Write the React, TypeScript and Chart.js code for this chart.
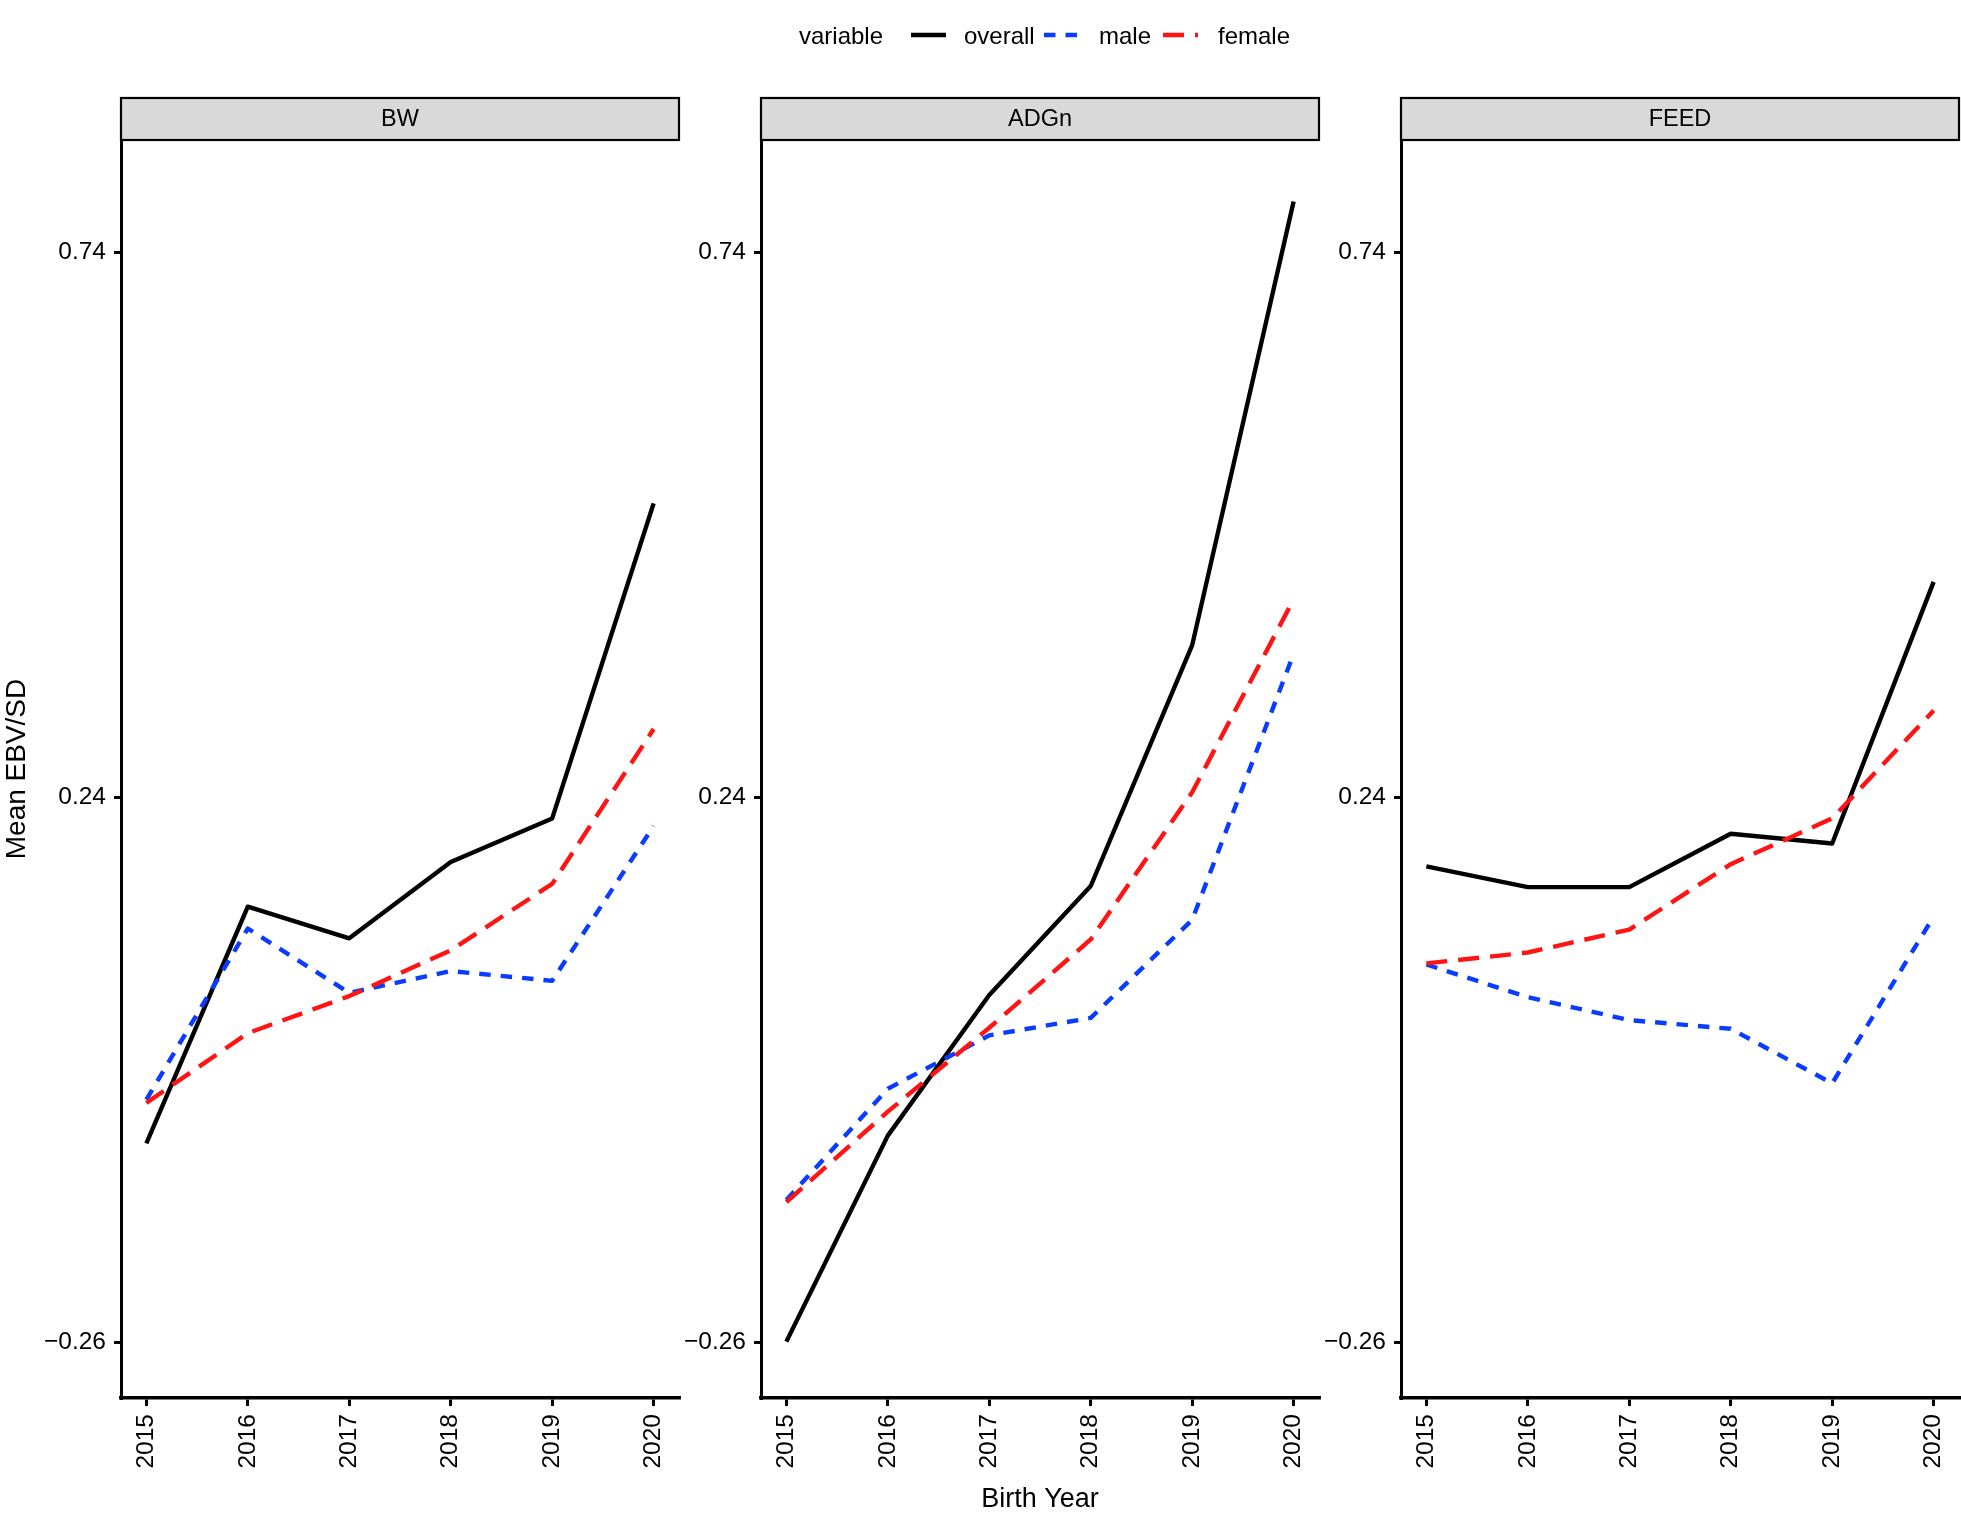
import React, { useEffect, useRef } from 'react';
import { Chart, registerables } from 'chart.js';

Chart.register(...registerables);

// ---------- data ----------
const years = [2015, 2016, 2017, 2018, 2019, 2020];
const yTickValues = [-0.26, 0.24, 0.74];
const panelTitles = ['BW', 'ADGn', 'FEED'];
const seriesNames = ['overall', 'male', 'female'];

const bwOverall = [-0.077, 0.140, 0.111, 0.181, 0.221, 0.510];
const bwMale = [-0.037, 0.120, 0.061, 0.081, 0.072, 0.214];
const bwFemale = [-0.040, 0.024, 0.058, 0.100, 0.161, 0.303];

const adgOverall = [-0.259, -0.070, 0.059, 0.159, 0.380, 0.787];
const adgMale = [-0.129, -0.027, 0.022, 0.038, 0.128, 0.372];
const adgFemale = [-0.131, -0.048, 0.029, 0.110, 0.245, 0.422];

const feedOverall = [0.177, 0.158, 0.158, 0.207, 0.198, 0.438];
const feedMale = [0.087, 0.057, 0.036, 0.028, -0.022, 0.131];
const feedFemale = [0.088, 0.098, 0.119, 0.179, 0.221, 0.320];

const xLabel = 'Birth Year';
const yLabel = 'Mean EBV/SD';
const legendTitle = 'variable';

// ---------- layout / style ----------
const FONT = '"Liberation Sans", Arial, Helvetica, sans-serif';
const W = 1961;
const H = 1516;
const PLOT_TOP = 140;
const PLOT_BOTTOM = 1398;
const PANEL_LEFTS = [121, 761, 1401];
const PANEL_W = 558;
const Y_AXIS_W = 121;
const Y_MIN = -0.3107;
const Y_MAX = 0.8434;
const X_MIN = 2014.75;
const X_MAX = 2020.25;
const STRIP_H = 42;

const BLACK = '#000000';
const BLUE = '#0A3CFF';
const RED = '#FF1414';
const LINE_W = 4.4;
const DASH_MALE = [11.5, 10];
const DASH_FEMALE = [21, 11];

const colors = [BLACK, BLUE, RED];
const dashes: number[][] = [[], DASH_MALE, DASH_FEMALE];

Chart.defaults.font.family = FONT;

const panelData = [
  [bwOverall, bwMale, bwFemale],
  [adgOverall, adgMale, adgFemale],
  [feedOverall, feedMale, feedFemale],
];

function fmt(v: number) {
  const s = Math.abs(v).toFixed(2);
  return v < 0 ? '\u2212' + s : s;
}

function Panel({ index }: { index: number }) {
  const ref = useRef<HTMLCanvasElement>(null);
  const canvasLeft = PANEL_LEFTS[index] - Y_AXIS_W;
  const cw = Y_AXIS_W + PANEL_W + 2;

  useEffect(() => {
    if (!ref.current) return;
    const title = panelTitles[index];
    const stripPlugin = {
      id: 'strip' + index,
      afterDraw(chart: any) {
        const { ctx, chartArea } = chart;
        const left = chartArea.left;
        const width = chartArea.right - chartArea.left;
        const top = chartArea.top - STRIP_H;
        ctx.save();
        ctx.fillStyle = '#D9D9D9';
        ctx.fillRect(left, top, width, STRIP_H);
        ctx.strokeStyle = '#000';
        ctx.lineWidth = 2.2;
        ctx.strokeRect(left, top, width, STRIP_H);
        ctx.fillStyle = '#000';
        ctx.font = `23.5px ${FONT}`;
        ctx.textAlign = 'center';
        ctx.textBaseline = 'middle';
        ctx.fillText(title, left + width / 2, top + STRIP_H / 2 + 1);
        ctx.restore();
      },
    };

    const series = panelData[index];
    const orders = [2, 1, 0];
    const datasets = seriesNames.map((name, si) => ({
      label: name,
      data: years.map((x, i) => ({ x, y: series[si][i] })),
      borderColor: colors[si],
      backgroundColor: colors[si],
      borderWidth: LINE_W,
      borderDash: dashes[si],
      borderCapStyle: 'butt' as const,
      borderJoinStyle: 'round' as const,
      pointRadius: 0,
      pointHoverRadius: 0,
      fill: false,
      tension: 0,
      order: orders[si],
    }));

    const chart = new Chart(ref.current, {
      type: 'line',
      data: { datasets },
      options: {
        animation: false,
        responsive: false,
        maintainAspectRatio: false,
        events: [],
        layout: { padding: { top: PLOT_TOP, right: 2, left: 0, bottom: 0 } },
        plugins: {
          legend: { display: false },
          tooltip: { enabled: false },
        },
        scales: {
          x: {
            type: 'linear',
            min: X_MIN,
            max: X_MAX,
            afterBuildTicks: (s: any) => {
              s.ticks = years.map((v) => ({ value: v }));
            },
            afterFit: (s: any) => {
              s.height = H - PLOT_BOTTOM;
              s.paddingLeft = 0;
              s.paddingRight = 0;
            },
            ticks: {
              autoSkip: false,
              maxRotation: 90,
              minRotation: 90,
              color: '#000',
              padding: 8,
              font: { size: 24.5, family: FONT },
              callback: (v: any) => String(v),
            },
            grid: {
              display: true,
              drawOnChartArea: false,
              drawTicks: true,
              tickLength: 8,
              color: '#000',
              lineWidth: 3,
            },
            border: { display: true, color: '#000', width: 3.5 },
            title: {
              display: index === 1,
              text: xLabel,
              color: '#000',
              font: { size: 27, family: FONT },
              padding: { top: 4, bottom: 0 },
            },
          },
          y: {
            type: 'linear',
            min: Y_MIN,
            max: Y_MAX,
            afterBuildTicks: (s: any) => {
              s.ticks = yTickValues.map((v) => ({ value: v }));
            },
            afterFit: (s: any) => {
              s.width = Y_AXIS_W;
              s.paddingTop = 0;
              s.paddingBottom = 0;
            },
            ticks: {
              color: '#000',
              padding: 8,
              font: { size: 24.5, family: FONT },
              callback: (v: any) => fmt(Number(v)),
            },
            grid: {
              display: true,
              drawOnChartArea: false,
              drawTicks: true,
              tickLength: 7,
              color: '#000',
              lineWidth: 3,
            },
            border: { display: true, color: '#000', width: 3 },
            title: {
              display: index === 0,
              text: yLabel,
              color: '#000',
              font: { size: 28, family: FONT },
              padding: { top: 0, bottom: 0 },
            },
          },
        },
      },
      plugins: [stripPlugin],
    } as any);
    return () => chart.destroy();
  }, [index]);

  return (
    <canvas
      ref={ref}
      width={cw}
      height={H}
      style={{ position: 'absolute', left: canvasLeft, top: 0, width: cw, height: H }}
    />
  );
}

function LegendKey({ left, color, dash }: { left: number; color: string; dash: number[] }) {
  return (
    <svg
      width={35}
      height={12}
      style={{ position: 'absolute', left, top: 29 }}
    >
      <line
        x1={0}
        y1={6}
        x2={35}
        y2={6}
        stroke={color}
        strokeWidth={LINE_W}
        strokeDasharray={dash.length ? dash.join(' ') : undefined}
      />
    </svg>
  );
}

const textStyle: React.CSSProperties = {
  position: 'absolute',
  top: 24,
  fontFamily: FONT,
  fontSize: 24,
  lineHeight: '24px',
  color: '#000',
  whiteSpace: 'nowrap',
};

export default function App() {
  const keyLefts = [911, 1044, 1163];
  const textLefts = [964, 1099, 1218];
  return (
    <div
      style={{
        position: 'absolute',
        left: 0,
        top: 0,
        width: W,
        height: H,
        background: '#fff',
        overflow: 'hidden',
      }}
    >
      {panelTitles.map((_, i) => (
        <Panel key={i} index={i} />
      ))}
      <div style={{ ...textStyle, left: 799 }}>{legendTitle}</div>
      {seriesNames.map((name, i) => (
        <React.Fragment key={name}>
          <LegendKey left={keyLefts[i]} color={colors[i]} dash={dashes[i]} />
          <div style={{ ...textStyle, left: textLefts[i] }}>{name}</div>
        </React.Fragment>
      ))}
    </div>
  );
}
